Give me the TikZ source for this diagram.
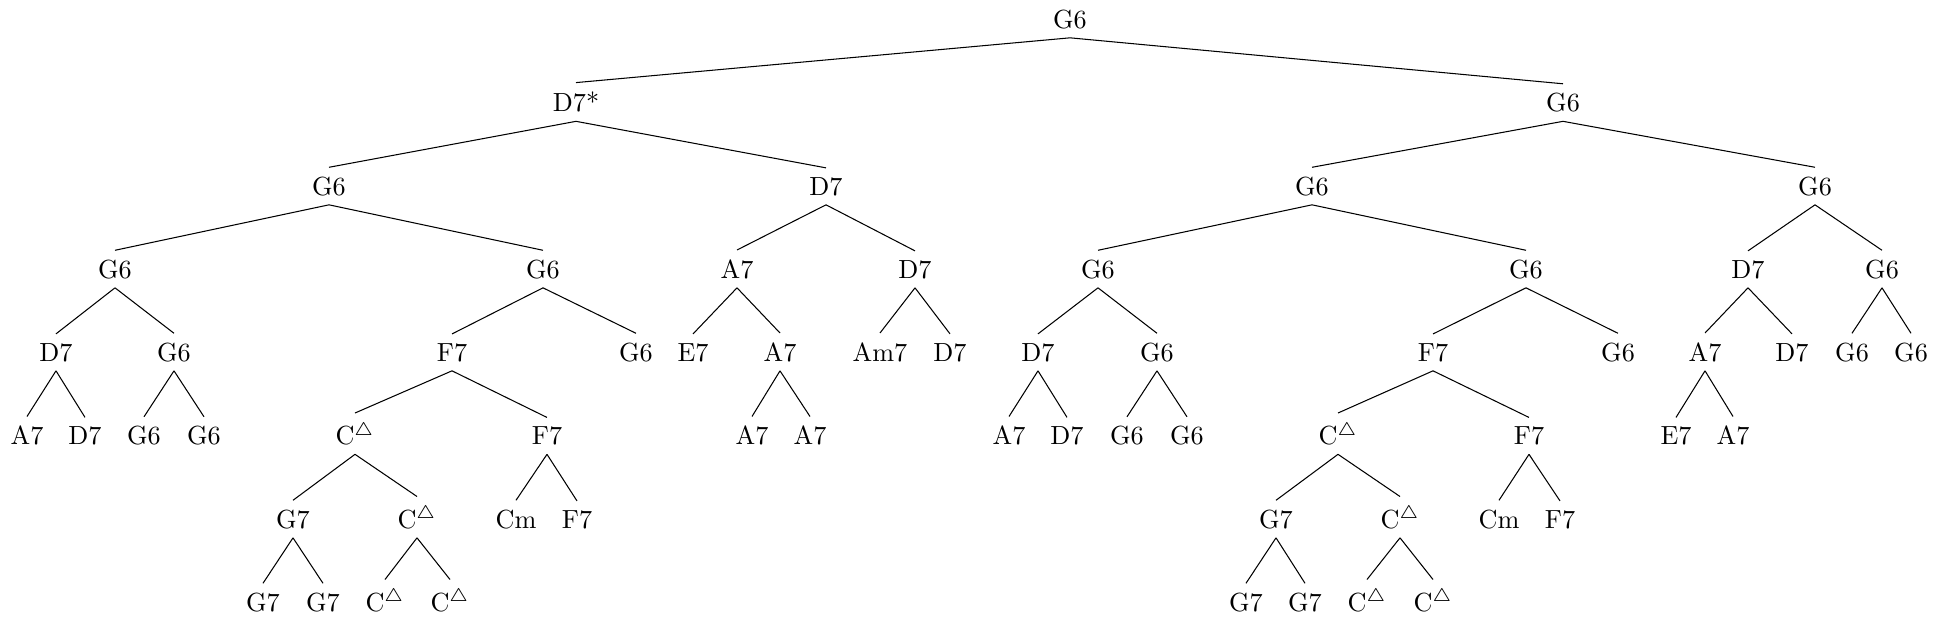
\documentclass[tikz,border=0pt]{standalone}
\begin{document}
\begin{tikzpicture}[x=0.3817pt,y=-0.3817pt,
  nd/.style={anchor=base,inner sep=3.33pt},
  edge/.style={draw=black,line width=0.4pt}]
\useasboundingbox (0,0) rectangle (1939,619);
\def\CT{C$^\triangle$}
% level 0
\node[nd] (r) at (1070,28) {G6};
% level 1
\node[nd] (a) at (576,111.5) {D7*};
\node[nd] (b) at (1563,111.5) {G6};
% level 2
\node[nd] (aa) at (329,195) {G6};
\node[nd] (ab) at (826,195) {D7};
\node[nd] (ba) at (1312,195) {G6};
\node[nd] (bb) at (1815,195) {G6};
% level 3
\node[nd] (aaa) at (115,278) {G6};
\node[nd] (aab) at (543,278) {G6};
\node[nd] (aba) at (737,278) {A7};
\node[nd] (abb) at (915,278) {D7};
\node[nd] (baa) at (1098,278) {G6};
\node[nd] (bab) at (1526,278) {G6};
\node[nd] (bba) at (1748,278) {D7};
\node[nd] (bbb) at (1882,278) {G6};
% level 4
\node[nd] (aaaa) at (56,361) {D7};
\node[nd] (aaab) at (174,361) {G6};
\node[nd] (aaba) at (452,361) {F7};
\node[nd] (aabb) at (636,361) {G6};
\node[nd] (abaa) at (693,361) {E7};
\node[nd] (abab) at (780,361) {A7};
\node[nd] (abba) at (880,361) {Am7};
\node[nd] (abbb) at (950,361) {D7};
\node[nd] (baaa) at (1038,361) {D7};
\node[nd] (baab) at (1157,361) {G6};
\node[nd] (baba) at (1433,361) {F7};
\node[nd] (babb) at (1618,361) {G6};
\node[nd] (bbaa) at (1705,361) {A7};
\node[nd] (bbab) at (1792,361) {D7};
\node[nd] (bbba) at (1852,361) {G6};
\node[nd] (bbbb) at (1911,361) {G6};
% level 5
\node[nd] (e1) at (27,444.5) {A7};
\node[nd] (e2) at (85,444.5) {D7};
\node[nd] (e3) at (144,444.5) {G6};
\node[nd] (e4) at (204,444.5) {G6};
\node[nd] (e5) at (355,444.5) {\CT};
\node[nd] (e6) at (547,444.5) {F7};
\node[nd] (e7) at (752,444.5) {A7};
\node[nd] (e8) at (810,444.5) {A7};
\node[nd] (e9) at (1009,444.5) {A7};
\node[nd] (e10) at (1067,444.5) {D7};
\node[nd] (e11) at (1127,444.5) {G6};
\node[nd] (e12) at (1187,444.5) {G6};
\node[nd] (e13) at (1338,444.5) {\CT};
\node[nd] (e14) at (1529,444.5) {F7};
\node[nd] (e15) at (1676,444.5) {E7};
\node[nd] (e16) at (1733,444.5) {A7};
% level 6
\node[nd] (f1) at (293,528) {G7};
\node[nd] (f2) at (417,528) {\CT};
\node[nd] (f3) at (516,528) {Cm};
\node[nd] (f4) at (577,528) {F7};
\node[nd] (f5) at (1276,528) {G7};
\node[nd] (f6) at (1400,528) {\CT};
\node[nd] (f7) at (1499,528) {Cm};
\node[nd] (f8) at (1560,528) {F7};
% level 7
\node[nd] (g1) at (263,611) {G7};
\node[nd] (g2) at (323,611) {G7};
\node[nd] (g3) at (385,611) {\CT};
\node[nd] (g4) at (450,611) {\CT};
\node[nd] (g5) at (1246,611) {G7};
\node[nd] (g6) at (1305,611) {G7};
\node[nd] (g7) at (1367,611) {\CT};
\node[nd] (g8) at (1433,611) {\CT};
% edges
\foreach \p/\c in {r/a,r/b,a/aa,a/ab,b/ba,b/bb,
  aa/aaa,aa/aab,ab/aba,ab/abb,ba/baa,ba/bab,bb/bba,bb/bbb,
  aaa/aaaa,aaa/aaab,aab/aaba,aab/aabb,aba/abaa,aba/abab,abb/abba,abb/abbb,
  baa/baaa,baa/baab,bab/baba,bab/babb,bba/bbaa,bba/bbab,bbb/bbba,bbb/bbbb,
  aaaa/e1,aaaa/e2,aaab/e3,aaab/e4,aaba/e5,aaba/e6,abab/e7,abab/e8,
  baaa/e9,baaa/e10,baab/e11,baab/e12,baba/e13,baba/e14,bbaa/e15,bbaa/e16,
  e5/f1,e5/f2,e6/f3,e6/f4,e13/f5,e13/f6,e14/f7,e14/f8,
  f1/g1,f1/g2,f2/g3,f2/g4,f5/g5,f5/g6,f6/g7,f6/g8}
  \draw[edge] (\p.south) -- (\c.north);
\end{tikzpicture}
\end{document}
